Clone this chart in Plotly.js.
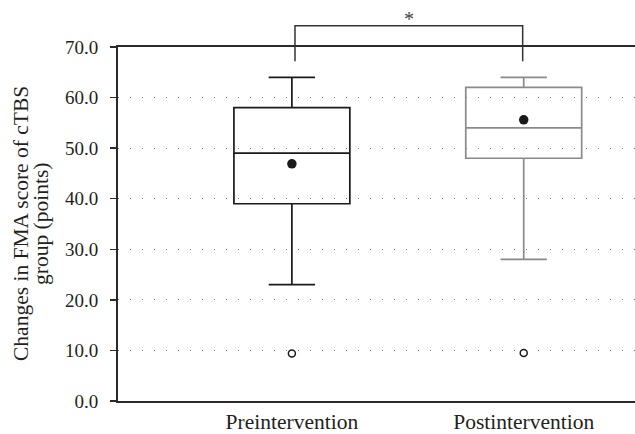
<!DOCTYPE html>
<html>
<head>
<meta charset="utf-8">
<script src="https://cdn.plot.ly/plotly-3.0.1.min.js"></script>
<style>html,body{margin:0;padding:0;background:#fff;}#chart{width:635px;height:434px;}</style>
</head>
<body>
<div id="chart"></div>
<script>
// ---- data ----
var categories = ['Preintervention', 'Postintervention'];
var q1Values = [39, 48];
var medianValues = [49, 54];
var q3Values = [58, 62];
var lowerWhisker = [23, 28];
var upperWhisker = [64, 64];
var meanValues = [46.9, 55.6];
var outlierValues = [9.4, 9.5];
var boxColors = ['#1a1a1a', '#8a8a8a'];
var yTitleLines = ['Changes in FMA score of cTBS', 'group (points)'];
var sigLabel = '*';

var FONT = 'Liberation Serif, Times New Roman, serif';
var TXT = '#231f20';
var xRange = [-0.75, 1.48];

var traces = [];
categories.forEach(function (c, i) {
  traces.push({
    type: 'box',
    x: [c],
    q1: [q1Values[i]],
    median: [medianValues[i]],
    q3: [q3Values[i]],
    lowerfence: [lowerWhisker[i]],
    upperfence: [upperWhisker[i]],
    boxpoints: false,
    width: 0.5,
    whiskerwidth: 0.4,
    line: {color: boxColors[i], width: 1.7},
    fillcolor: 'rgba(0,0,0,0)',
    showlegend: false,
    hoverinfo: 'skip'
  });
});
traces.push({
  type: 'scatter', mode: 'markers',
  x: categories, y: meanValues,
  marker: {color: '#1a1a1a', size: 9.5},
  showlegend: false, hoverinfo: 'skip'
});
traces.push({
  type: 'scatter', mode: 'markers',
  x: categories, y: outlierValues,
  marker: {color: '#ffffff', size: 7, line: {color: '#1a1a1a', width: 1.5}},
  showlegend: false, hoverinfo: 'skip'
});

function toPaperX(idx) { return (idx - xRange[0]) / (xRange[1] - xRange[0]); }
var bx0 = toPaperX(0) + 0.006, bx1 = toPaperX(1) - 0.002;

var layout = {
  width: 635, height: 434,
  margin: {l: 118, r: 0, t: 47, b: 33},
  paper_bgcolor: '#fff', plot_bgcolor: '#fff',
  font: {family: FONT, color: TXT, size: 19},
  xaxis: {
    type: 'category',
    range: xRange,
    showline: true, linecolor: '#2a2a2a', linewidth: 2, mirror: true,
    ticks: '', showgrid: false, zeroline: false,
    tickfont: {family: FONT, size: 21.5, color: TXT},
    ticklabelstandoff: 0
  },
  yaxis: {
    range: [0, 70], dtick: 10, tick0: 0, tickformat: '.1f',
    showline: true, linecolor: '#2a2a2a', linewidth: 2,
    ticks: 'outside', ticklen: 6, tickwidth: 1.5, tickcolor: '#2a2a2a',
    showgrid: true, gridcolor: '#777', gridwidth: 1, griddash: '1px,11px',
    zeroline: false,
    tickfont: {family: FONT, size: 19, color: TXT},
    ticklabelstandoff: 8
  },
  shapes: [{
    type: 'path', xref: 'paper', yref: 'paper',
    path: 'M' + bx0 + ',0.96 L' + bx0 + ',1.06 L' + bx1 + ',1.06 L' + bx1 + ',0.96',
    line: {color: '#333', width: 1.5}
  }],
  annotations: [
    {text: sigLabel, xref: 'paper', yref: 'paper', x: (bx0 + bx1) / 2, y: 1.09, yshift: 9,
     showarrow: false, font: {family: FONT, size: 20, color: '#444'}},
    {text: yTitleLines[0], xref: 'paper', yref: 'paper', x: 0, y: 0.5, xshift: -97,
     textangle: -90, showarrow: false, xanchor: 'center', yanchor: 'middle',
     font: {family: FONT, size: 21.5, color: TXT}},
    {text: yTitleLines[1], xref: 'paper', yref: 'paper', x: 0, y: 0.5, xshift: -77,
     textangle: -90, showarrow: false, xanchor: 'center', yanchor: 'middle',
     font: {family: FONT, size: 21.5, color: TXT}}
  ]
};

Plotly.newPlot('chart', traces, layout, {displayModeBar: false, staticPlot: true});
</script>
</body>
</html>
